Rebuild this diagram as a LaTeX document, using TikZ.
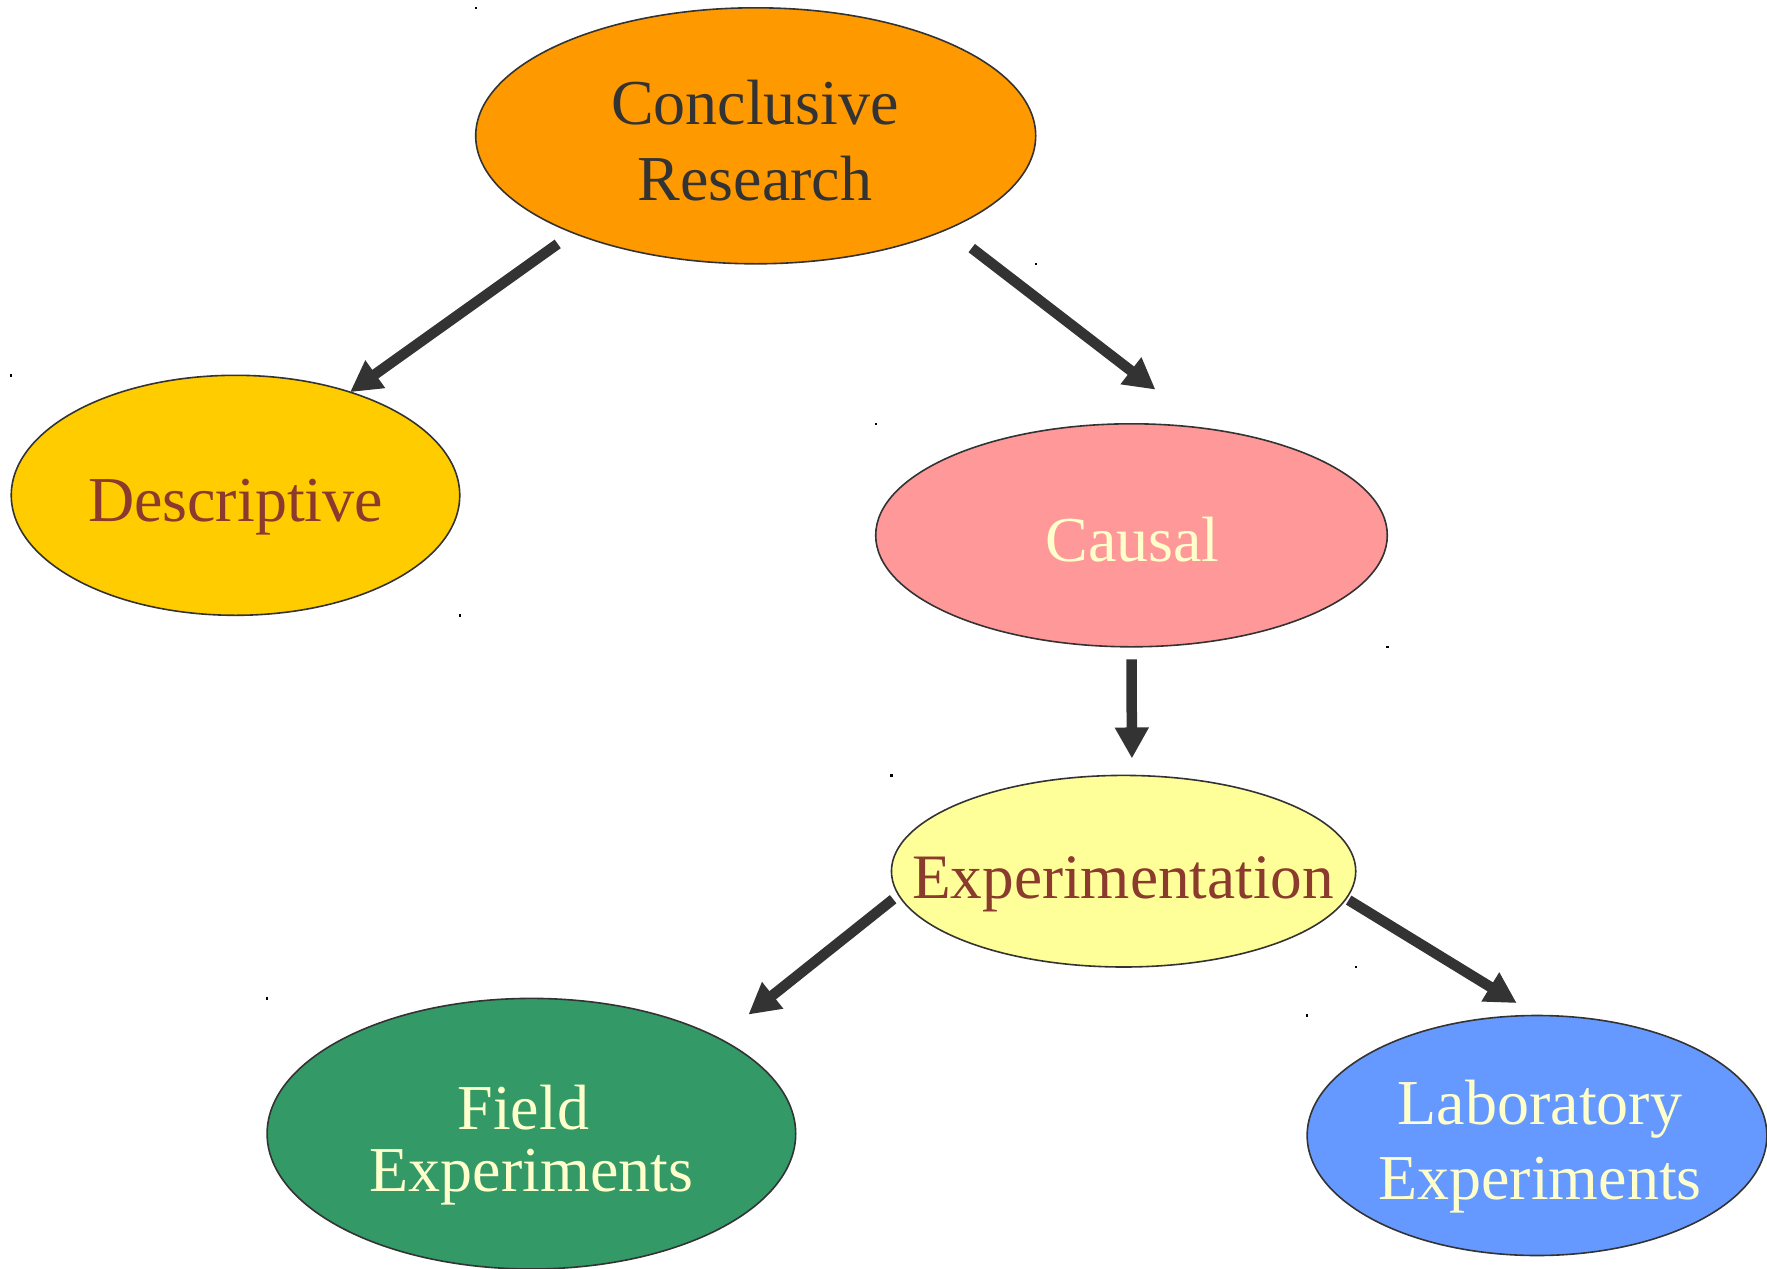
\documentclass[tikz,border=0pt]{standalone}
\usepackage{fontspec}
\setmainfont{Liberation Serif}
\usetikzlibrary{shapes.geometric,arrows.meta}
\definecolor{ink}{HTML}{333333}
\definecolor{brick}{HTML}{8B3A2E}
\definecolor{cream}{HTML}{FFFFCC}
\definecolor{orangeF}{HTML}{FF9900}
\definecolor{goldF}{HTML}{FFCC00}
\definecolor{pinkF}{HTML}{FF9999}
\definecolor{paleF}{HTML}{FFFF99}
\definecolor{greenF}{HTML}{339966}
\definecolor{blueF}{HTML}{6699FF}
\begin{document}
\begin{tikzpicture}[x=1pt,y=-1pt,
  blob/.style={ellipse, draw=ink, line width=1.6pt, inner sep=0pt, outer sep=0pt},
  txt/.style={inner sep=0pt, align=center, anchor=base},
  link/.style={draw=ink, line width=10.5pt, -{Triangle[length=31pt,width=32pt]}},
  cornerdot/.style={fill=black}
]
\useasboundingbox (0,0) rectangle (1767,1269);

% ellipses
\node[blob, fill=orangeF, minimum width=560pt, minimum height=256pt] (conc) at (755.7,135.8) {};
\node[blob, fill=goldF, minimum width=448.5pt, minimum height=240pt] (desc) at (235.5,495.3) {};
\node[blob, fill=pinkF, minimum width=511.6pt, minimum height=223pt] (causal) at (1131.5,535.3) {};
\node[blob, fill=paleF, minimum width=464.3pt, minimum height=191.6pt] (exper) at (1123.6,871.2) {};
\node[blob, fill=greenF, minimum width=528.6pt, minimum height=270.6pt] (field) at (531.4,1133.7) {};
\node[blob, fill=blueF, minimum width=459.7pt, minimum height=240pt] (lab) at (1537,1135.5) {};

% labels (base anchor sits on the last line)
\node[txt, text=ink, font=\fontsize{64}{76.6}\selectfont] (concT) at (755,200.6) {Conclusive\\Research};
\node[txt, text=brick, font=\fontsize{64}{76}\selectfont] (descT) at (235.5,521.8) {Descriptive};
\node[txt, text=cream, font=\fontsize{64}{76}\selectfont] (causalT) at (1132.6,561.2) {Causal};
\node[txt, text=brick, font=\fontsize{63.3}{74}\selectfont] (experT) at (1123,898.2) {Experimentation};
\node[txt, text=cream, font=\fontsize{64}{62}\selectfont] (fieldT) at (531.4,1191.2) {Field\hspace*{16pt}\\Experiments};
\node[txt, text=cream, font=\fontsize{64}{74.4}\selectfont] (labT) at (1540,1199.1) {Laboratory\\Experiments};

% connectors
\draw[link, shorten <=19pt] (conc.208.6) -- (desc.42.5);
\draw[link, shorten <=31pt, shorten >=64pt] (conc.334.9) -- (causal.55.3);
\draw[link, shorten <=12.5pt, shorten >=17pt] (causal.270) -- (exper.85.3);
\draw[link, shorten <=7pt, shorten >=38pt] (exper.186.7) -- (field.27.25);
\draw[link, shorten <=3pt, shorten >=23.8pt] (exper.353.2) -- (lab.90);

% small corner marks
\foreach \n in {conc,desc,causal,exper}{
  \fill[cornerdot] (\n.west |- \n.north) ++(-1.2,-1.2) rectangle ++(2.4,2.4);
  \fill[cornerdot] (\n.east |- \n.south) ++(-1.2,-1.2) rectangle ++(2.4,2.4);
}
\foreach \n in {field,lab}{
  \fill[cornerdot] (\n.west |- \n.north) ++(-1.2,-1.2) rectangle ++(2.4,2.4);
}
\end{tikzpicture}
\end{document}
